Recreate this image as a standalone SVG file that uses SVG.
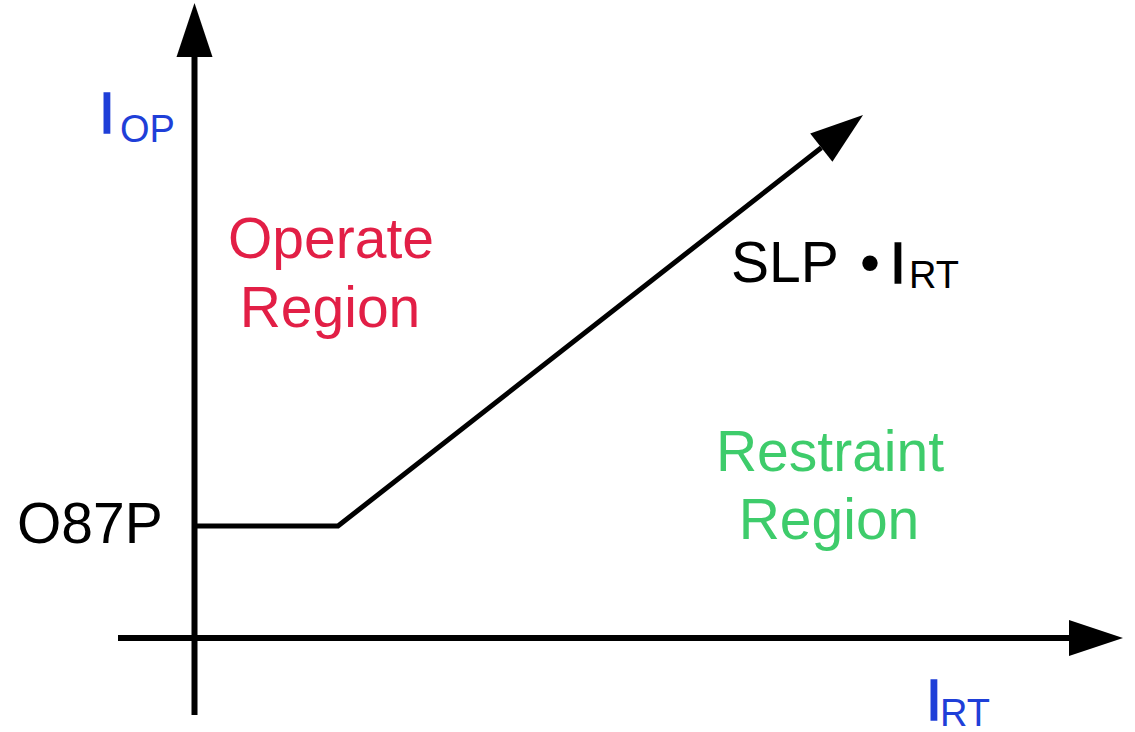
<svg xmlns="http://www.w3.org/2000/svg" width="1135" height="732" viewBox="0 0 1135 732">
  <style>
    text { font-family: "Liberation Sans", Arial, Helvetica, sans-serif; }
    .big { font-size: 57px; }
    .sub { font-size: 38px; }
    .axis-label { fill: #1f3fd8; }
    .stem { stroke-width: 1.5; }
    .axis-label .stem { stroke: #1f3fd8; }
    .dark .stem { stroke: #000; }
    .operate { fill: #e21f46; }
    .restraint { fill: #3ecc6b; }
    .dark { fill: #000000; }
    .axis { stroke: #000; stroke-width: 6; fill: none; }
    .curve { stroke: #000; stroke-width: 5; fill: none; stroke-linejoin: miter; }
  </style>
  <defs>
    <marker id="arrow" markerUnits="userSpaceOnUse" markerWidth="54" markerHeight="36" refX="0" refY="18" orient="auto" overflow="visible">
      <path d="M0,0 L54,18 L0,36 Z" fill="#000"/>
    </marker>
    <marker id="arrow-slope" markerUnits="userSpaceOnUse" markerWidth="53" markerHeight="36" refX="0" refY="18" orient="auto" overflow="visible">
      <path d="M0,0 L53,18 L0,36 Z" fill="#000"/>
    </marker>
  </defs>

  <rect width="1135" height="732" fill="#ffffff"/>

  <!-- axes and characteristic curve -->
  <g id="connectors">
    <line id="y-axis" class="axis" x1="194.5" y1="715" x2="194.5" y2="57" marker-end="url(#arrow)"/>
    <line id="x-axis" class="axis" x1="118" y1="638" x2="1069" y2="638" marker-end="url(#arrow)"/>
    <polyline id="characteristic" class="curve" points="195,526 338,526 821.3,147.7" marker-end="url(#arrow-slope)"/>
  </g>

  <g id="label-iop">
    <text class="axis-label"><tspan class="big stem" x="99" y="133" font-size="60">I</tspan><tspan class="sub" x="120" y="142">OP</tspan></text>
  </g>

  <g id="label-irt-axis">
    <text class="axis-label"><tspan class="big stem" x="926" y="720" font-size="60">I</tspan><tspan class="sub" x="940" y="726">RT</tspan></text>
  </g>

  <g id="label-o87p">
    <text class="big dark" x="17" y="543">O87P</text>
  </g>

  <g id="label-slope">
    <text class="dark"><tspan class="big" x="731" y="282">SLP</tspan><tspan class="big" x="860" y="282">•</tspan><tspan class="big stem" x="890" y="283">I</tspan><tspan class="sub" x="909" y="288">RT</tspan></text>
  </g>

  <g id="operate-region">
    <text class="big operate" x="331" y="258" text-anchor="middle">Operate</text>
    <text class="big operate" x="330" y="327" text-anchor="middle">Region</text>
  </g>

  <g id="restraint-region">
    <text class="big restraint" x="830" y="471" text-anchor="middle">Restraint</text>
    <text class="big restraint" x="829" y="539" text-anchor="middle">Region</text>
  </g>
</svg>
